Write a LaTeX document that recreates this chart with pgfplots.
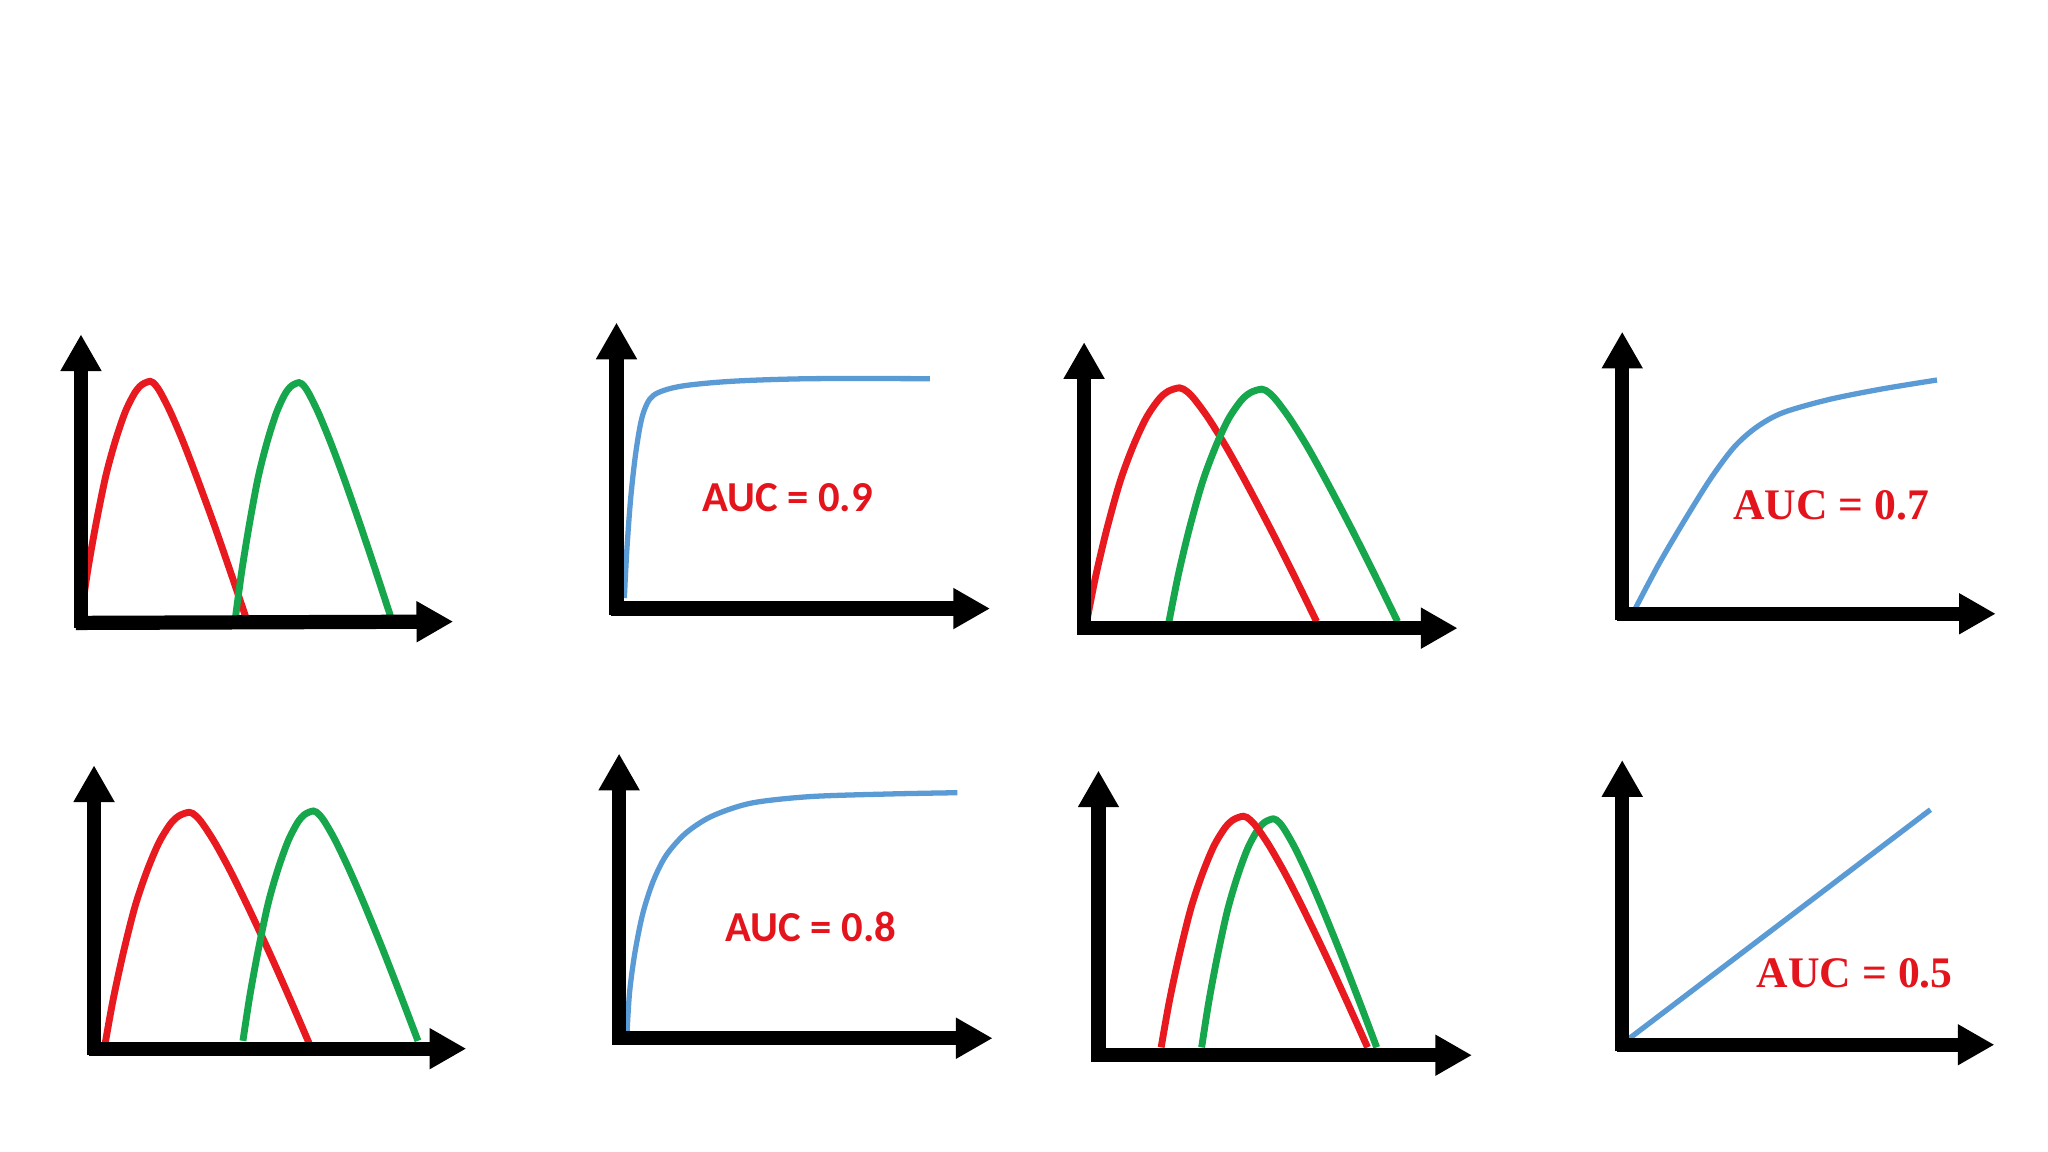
\documentclass[border=0pt]{standalone}
\usepackage{pgfplots}
\pgfplotsset{compat=1.18}
\usetikzlibrary{arrows.meta}
\usepackage{fontspec}
\newfontfamily\calfont{Carlito}
\newfontfamily\timesfont{Liberation Serif}
\definecolor{cred}{HTML}{E8191F}
\definecolor{cgreen}{HTML}{16A64B}
\definecolor{cblue}{HTML}{5B9BD5}
\definecolor{tred}{HTML}{E3141C}
\begin{document}
\begin{tikzpicture}
\begin{axis}[
  scale only axis, width=446.1pt, height=250.9pt,
  xmin=0, xmax=1568, ymin=0, ymax=882,
  hide axis, clip=false,
  ax/.style={black, line width=3.1pt, line cap=butt, -{Triangle[length=8pt,width=8.4pt]}},
  rc/.style={cred, line width=1.5pt, smooth, tension=0.5},
  gc/.style={cgreen, line width=1.5pt, smooth, tension=0.5},
  bc/.style={cblue, line width=1.15pt, smooth, tension=0.5},
]
\fill[white] (axis cs:0,0) rectangle (axis cs:1568,882);
% ---------- Panel 1 ----------
\addplot[rc] coordinates {(62,410)(67.3,446)(73.7,482)(81.1,518)(88.5,545)(95.9,566.6)(103.1,581)(108.5,587.3)(115,590)(118.9,587.3)(123.1,581)(130.4,566.6)(139.7,545)(150.1,518)(163.3,482)(175.8,446)(188,410)};
\addplot[gc] coordinates {(180,407)(184.9,443.4)(190.8,479.8)(197.6,516.2)(204.5,543.5)(211.4,565.3)(218,579.9)(223,586.3)(229,589)(232.8,586.3)(236.9,579.9)(244,565.3)(253,543.5)(263.2,516.2)(275.9,479.8)(288.1,443.4)(300,407)};
\addplot[ax] coordinates {(62,401)(62,626)};
\addplot[ax] coordinates {(58,405)(347,406)};
% ---------- Panel 2 ----------
\addplot[bc] coordinates {(478,424)(480,462)(483,502)(487,537)(492,564)(500,579)(520,586)(560,590)(620,592)(712,592)};
\addplot[ax] coordinates {(472,411)(472,635)};
\addplot[ax] coordinates {(468,416)(758,416)};
\node[text=tred, font=\calfont\bfseries\fontsize{9.3pt}{11pt}\selectfont] at (axis cs:603,501) {AUC = 0.9};
% ---------- Panel 3 ----------
\addplot[rc] coordinates {(832,406)(839.1,441.8)(847.6,477.6)(857.6,513.4)(867.5,540.25)(877.4,561.7)(887.1,576.05)(894.3,582.3)(903,585)(908.6,582.3)(914.7,576.05)(925.2,561.7)(938.5,540.25)(953.5,513.4)(972.4,477.6)(990.5,441.8)(1008,406)};
\addplot[gc] coordinates {(895,406)(902.1,441.6)(910.6,477.2)(920.6,512.8)(930.5,539.5)(940.4,560.9)(950.1,575.1)(957.3,581.3)(966,584)(971.5,581.3)(977.5,575.1)(987.9,560.9)(1001.2,539.5)(1016,512.8)(1034.7,477.2)(1052.6,441.6)(1070,406)};
\addplot[ax] coordinates {(830,396)(830,620)};
\addplot[ax] coordinates {(827,401)(1116,401)};
% ---------- Panel 4 ----------
\addplot[bc] coordinates {(1252,416)(1270,450)(1290,484)(1310,516)(1328,540)(1345,555)(1365,566)(1400,576)(1440,584)(1483,591)};
\addplot[ax] coordinates {(1242,407)(1242,628)};
\addplot[ax] coordinates {(1238,412)(1528,412)};
\node[text=tred, font=\timesfont\bfseries\fontsize{9.5pt}{11pt}\selectfont] at (axis cs:1402,495) {AUC = 0.7};
% ---------- Panel 5 ----------
\addplot[rc] coordinates {(80,80)(86.5,116)(94.3,152)(103.4,188)(112.5,215)(121.6,236.6)(130.4,251)(137.1,257.3)(145,260)(149.9,257.3)(155.3,251)(164.6,236.6)(176.4,215)(189.7,188)(206.5,152)(222.5,116)(238,80)};
\addplot[gc] coordinates {(186,85)(191.4,120.2)(197.9,155.4)(205.4,190.6)(213,217)(220.6,238.1)(227.9,252.2)(233.4,258.4)(240,261)(244.2,258.4)(248.9,252.2)(256.9,238.1)(267,217)(278.5,190.6)(292.9,155.4)(306.6,120.2)(320,85)};
\addplot[ax] coordinates {(72,74)(72,296)};
\addplot[ax] coordinates {(68,79)(357,79)};
% ---------- Panel 6 ----------
\addplot[bc] coordinates {(480,90)(482,122)(486,152)(492,182)(500,207)(510,227)(525,244)(545,257)(575,267)(620,272)(680,274)(733,275)};
\addplot[ax] coordinates {(474,82)(474,305)};
\addplot[ax] coordinates {(470,87)(760,87)};
\node[text=tred, font=\calfont\bfseries\fontsize{9.3pt}{11pt}\selectfont] at (axis cs:621,172) {AUC = 0.8};
% ---------- Panel 7 ----------
\addplot[gc] coordinates {(920,80)(925.5,115)(932.1,150)(939.8,185)(947.5,211.25)(955.2,232.25)(962.7,246.25)(968.3,252.4)(975,255)(979.2,252.4)(983.8,246.25)(991.7,232.25)(1001.7,211.25)(1013,185)(1027.2,150)(1040.8,115)(1054,80)};
\addplot[rc] coordinates {(889,80)(895.3,115.4)(902.9,150.8)(911.7,186.2)(920.5,212.75)(929.3,234)(937.9,248.15)(944.3,254.3)(952,257)(957,254.3)(962.5,248.15)(972,234)(984.1,212.75)(997.7,186.2)(1014.8,150.8)(1031.1,115.4)(1047,80)};
\addplot[ax] coordinates {(841,69)(841,292)};
\addplot[ax] coordinates {(838,74)(1127,74)};
% ---------- Panel 8 ----------
\addplot[bc] coordinates {(1245,85)(1478,262)};
\addplot[ax] coordinates {(1242,77)(1242,300)};
\addplot[ax] coordinates {(1238,82)(1527,82)};
\node[text=tred, font=\timesfont\bfseries\fontsize{9.5pt}{11pt}\selectfont] at (axis cs:1420,137) {AUC = 0.5};
\end{axis}
\end{tikzpicture}
\end{document}
